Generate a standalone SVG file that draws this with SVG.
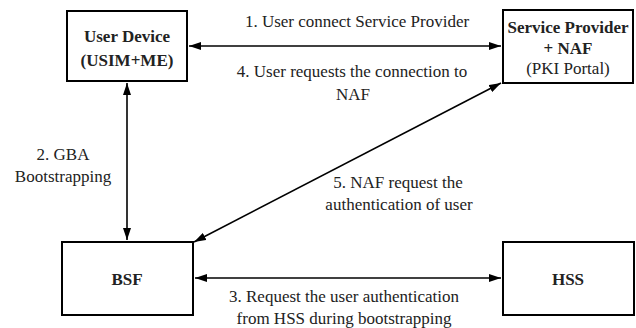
<svg xmlns="http://www.w3.org/2000/svg" width="636" height="328" viewBox="0 0 636 328">
<style>
  .box { fill: #fff; stroke: #000; stroke-width: 2; }
  .t { font-family: "Liberation Serif", "Times New Roman", serif; font-size: 17px; fill: #222; text-anchor: middle; }
  .b { font-weight: bold; }
  .c { stroke: #000; stroke-width: 1.6; fill: none; marker-start: url(#ah); marker-end: url(#ah); }
</style>
<defs>
  <marker id="ah" viewBox="0 0 12 8" refX="12" refY="4" markerWidth="12" markerHeight="8" markerUnits="userSpaceOnUse" orient="auto-start-reverse">
    <path d="M0,0 L12,4 L0,8 Z" fill="#000"/>
  </marker>
</defs>
<rect width="636" height="328" fill="#fff"/>
<g id="connectors">
  <line class="c" x1="189" y1="46" x2="501" y2="46"/>
  <line class="c" x1="127" y1="83" x2="127" y2="240"/>
  <line class="c" x1="195" y1="278" x2="501" y2="278"/>
  <line class="c" x1="194" y1="242" x2="501" y2="83"/>
  <text class="t" x="357" y="27">1. User connect Service Provider</text>
  <text class="t" x="352" y="77">4. User requests the connection to</text>
  <text class="t" x="353" y="100">NAF</text>
  <text class="t" x="63" y="160">2. GBA</text>
  <text class="t" x="63" y="182">Bootstrapping</text>
  <text class="t" x="398" y="188">5. NAF request the</text>
  <text class="t" x="399" y="210">authentication of user</text>
  <text class="t" x="344" y="302">3. Request the user authentication</text>
  <text class="t" x="344" y="324">from HSS during bootstrapping</text>
</g>
<g id="user-device">
  <rect class="box" x="67" y="11" width="120" height="70"/>
  <text class="t b" x="127" y="42">User Device</text>
  <text class="t b" x="127" y="66">(USIM+ME)</text>
</g>
<g id="service-provider">
  <rect class="box" x="503" y="10" width="130" height="73"/>
  <text class="t b" x="568" y="33" font-size="16">Service Provider</text>
  <text class="t b" x="568" y="54">+ NAF</text>
  <text class="t" x="568" y="74">(PKI Portal)</text>
</g>
<g id="bsf">
  <rect class="box" x="62" y="242" width="131" height="73"/>
  <text class="t b" x="127" y="285">BSF</text>
</g>
<g id="hss">
  <rect class="box" x="503" y="242" width="131" height="73"/>
  <text class="t b" x="568" y="285">HSS</text>
</g>
</svg>
